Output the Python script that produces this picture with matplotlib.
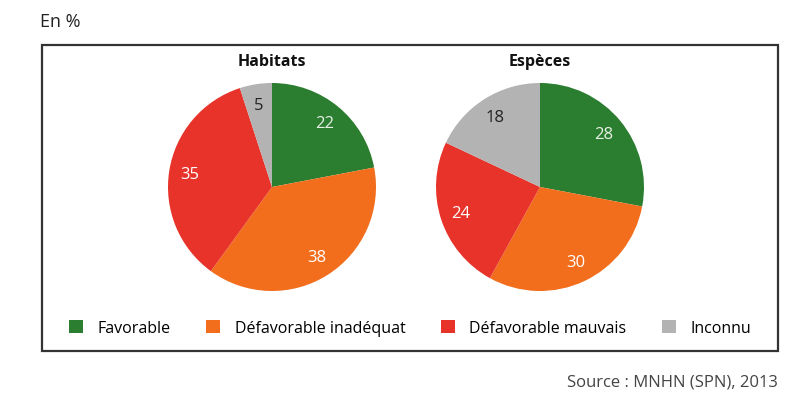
import matplotlib.pyplot as plt
from matplotlib.patches import Rectangle, Patch

# data (in %)
categories = ["Favorable", "Défavorable inadéquat", "Défavorable mauvais", "Inconnu"]
habitats = [22, 38, 35, 5]
especes = [28, 30, 24, 18]
colors = ["#2b7d2f", "#f26e1d", "#e7332a", "#b3b3b3"]
label_colors = ["#e8f0e8", "#ffffff", "#ffffff", "#222222"]

plt.rcParams["font.family"] = ["Liberation Sans Narrow", "Open Sans", "DejaVu Sans"]

fig = plt.figure(figsize=(8, 4.14), dpi=100)

# frame around both pies and the legend
box = Rectangle((42 / 800, 1 - 352 / 414), 736 / 800, 306 / 414,
                transform=fig.transFigure, fill=False,
                edgecolor="#333333", linewidth=1.6)
fig.patches.append(box)


def draw_pie(cx, title, values):
    r = 104
    ax = fig.add_axes([(cx - r) / 800, 1 - (188 + r) / 414, 2 * r / 800, 2 * r / 414])
    wedges, texts = ax.pie(values, colors=colors, startangle=90, counterclock=False,
                           labels=[str(v) for v in values], labeldistance=0.8,
                           wedgeprops=dict(linewidth=0))
    for t, c in zip(texts, label_colors):
        t.set_color(c)
        t.set_fontsize(12)
        t.set_ha("center")
        t.set_va("center")
    ax.set_xlim(-1, 1)
    ax.set_ylim(-1, 1)
    ax.set_aspect("equal")
    fig.text(cx / 800, 1 - 62 / 414, title, ha="center", va="center",
             fontsize=11.5, fontweight="bold", color="#111111")


draw_pie(272, "Habitats", habitats)
draw_pie(540, "Espèces", especes)

handles = [Patch(facecolor=c, edgecolor="none") for c in colors]
fig.legend(handles, categories, loc="center", bbox_to_anchor=(410 / 800, 1 - 329 / 414),
           ncol=4, frameon=False, fontsize=11.5, handlelength=0.9, handleheight=0.9,
           handletextpad=0.9, columnspacing=2.2)

fig.text(40 / 800, 1 - 22 / 414, "En %", ha="left", va="center", fontsize=13, color="#222222")
fig.text(778 / 800, 1 - 383 / 414, "Source : MNHN (SPN), 2013", ha="right", va="center",
         fontsize=12, color="#444444")

fig.savefig("out.png", dpi=100)
